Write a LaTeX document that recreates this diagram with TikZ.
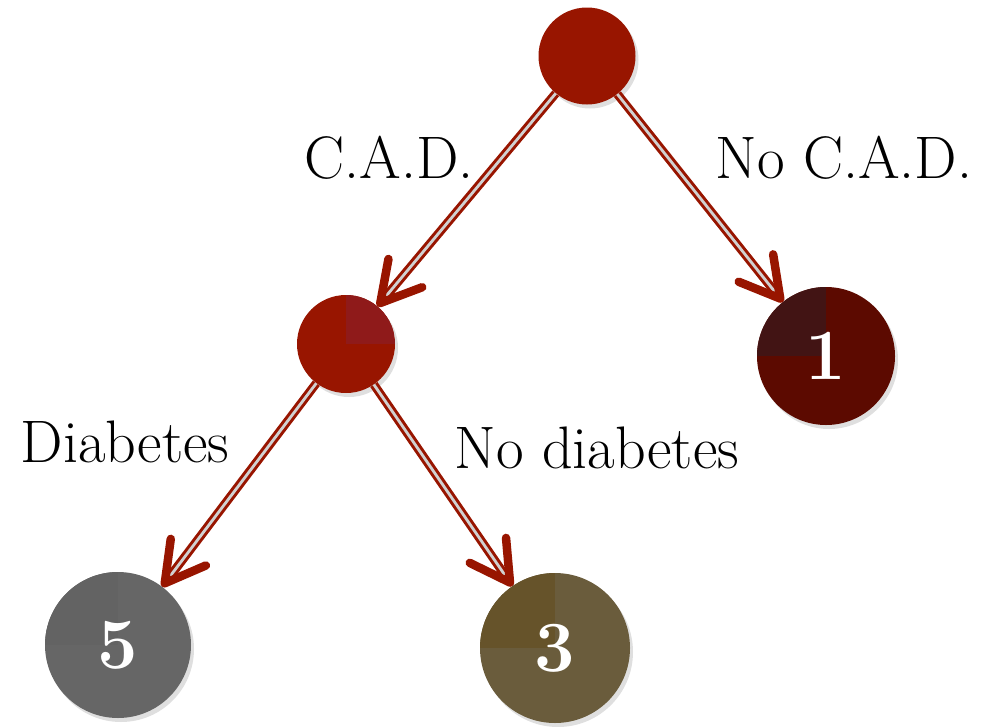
\documentclass[tikz,border=0pt]{standalone}
\usepackage{amsmath}
\usepackage{amssymb}
\usepackage{tikz}
\usetikzlibrary{arrows.meta,shadows,calc}

\definecolor{treered}{RGB}{152,21,0}
\definecolor{midquad}{RGB}{143,26,26}
\definecolor{onefill}{RGB}{92,10,0}
\definecolor{onequad}{RGB}{66,20,20}
\definecolor{fivefill}{RGB}{102,102,102}
\definecolor{fivequad}{RGB}{99,99,99}
\definecolor{threefill}{RGB}{106,92,60}
\definecolor{threequad}{RGB}{102,83,42}

\begin{document}
\begin{tikzpicture}[x=1pt,y=-1pt]
            \tikzstyle{every node}+=[inner sep=0pt]
            \tikzstyle{leaf}=[circle, draw=none, text=white,
              font=\fontsize{72}{76}\selectfont\bfseries,
              drop shadow={shadow xshift=3pt, shadow yshift=-4pt, opacity=0.25}]
            \tikzstyle{quad}=[path picture={\fill[#1] (path picture bounding box.center)
              rectangle (path picture bounding box.north west);}]
            \tikzstyle{tag}=[anchor=base, font=\fontsize{60}{64}\selectfont]
            \tikzstyle{branch}=[draw=treered, line width=3pt, double=black!18,
              double distance=2.8pt, shorten >=6pt]
            \tikzstyle{barb}=[draw=treered, line width=8.5pt,
              -{Straight Barb[length=39pt, width=44pt, round]}]
            \useasboundingbox (0,0) rectangle (982,726);
            % nodes
            \node [leaf, fill=treered, minimum size=97pt] (root) at (587,56) {};
            \node [leaf, fill=treered, minimum size=98pt,
              path picture={\fill[midquad] (path picture bounding box.center)
              rectangle (path picture bounding box.north east);}] (cad) at (346,344) {};
            \node [leaf, fill=onefill, quad=onequad, minimum size=138pt] (one) at (826,356) {1};
            \node [leaf, fill=fivefill, quad=fivequad, minimum size=146pt] (five) at (118,645) {5};
            \node [leaf, fill=threefill, quad=threequad, minimum size=150pt] (three) at (555,648) {3};
            % branches
            \draw [branch] (root) -- (cad);
            \draw [barb] ($(cad)!58pt!(root)$) -- (cad);
            \draw [branch] (root) -- (one);
            \draw [barb] ($(one)!78pt!(root)$) -- (one);
            \draw [branch] (cad) -- (five);
            \draw [barb] ($(five)!82pt!(cad)$) -- (five);
            \draw [branch] (cad) -- (three);
            \draw [barb] ($(three)!84pt!(cad)$) -- (three);
            % labels
            \node [tag] (lcad) at (389,178) {C.A.D.};
            \node [tag] (lnocad) at (844,178) {No C.A.D.};
            \node [tag] (ldiab) at (125,462) {Diabetes};
            \node [tag] (lnodiab) at (597,468) {No diabetes};
        \end{tikzpicture}
\end{document}
